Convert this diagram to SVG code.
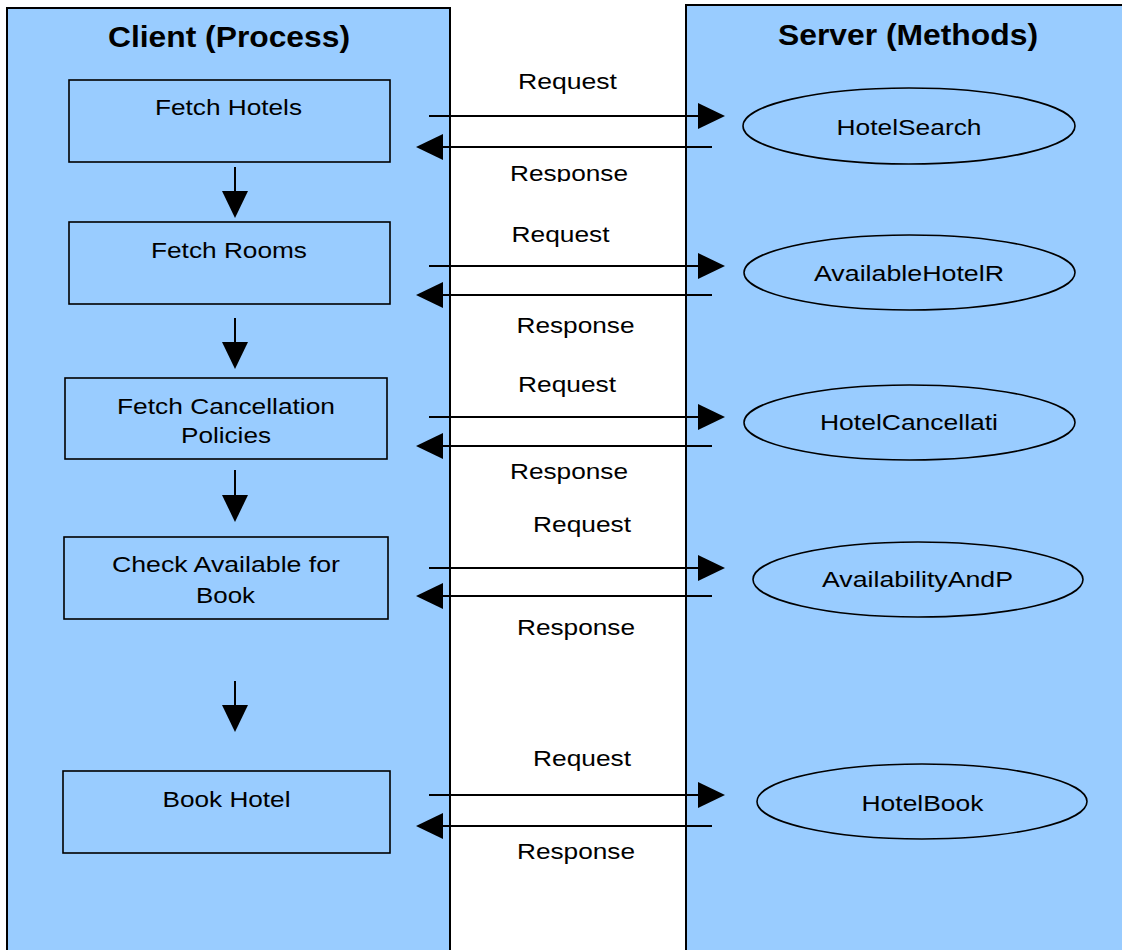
<svg xmlns="http://www.w3.org/2000/svg" width="1122" height="950" viewBox="0 0 1122 950">
<defs>
<marker id="ah" viewBox="0 0 27 26" refX="0" refY="13" markerWidth="27" markerHeight="26" markerUnits="userSpaceOnUse" orient="auto">
<path d="M0,0 L27,13 L0,26 z" fill="#000"/>
</marker>
<clipPath id="clipResp1"><rect x="450" y="150" width="236" height="32"/></clipPath>
</defs>
<style>
.panel{fill:#99ccff;stroke:#000;stroke-width:2}
.box{fill:#99ccff;stroke:#000;stroke-width:1.6}
.oval{fill:#99ccff;stroke:#000;stroke-width:1.6}
.t{font-family:"Liberation Sans",Arial,sans-serif;font-size:22px;fill:#000;text-anchor:middle}
.title{font-family:"Liberation Sans",Arial,sans-serif;font-size:29px;font-weight:bold;fill:#000;text-anchor:middle}
.c{stroke:#000;stroke-width:2;fill:none;marker-end:url(#ah)}
</style>
<rect width="1122" height="950" fill="#fff"/>
<g id="client-panel">
<rect class="panel" x="7" y="8" width="443" height="960"/>
<text class="title" x="229" y="47" textLength="242" lengthAdjust="spacingAndGlyphs">Client (Process)</text>
</g>
<g id="server-panel">
<rect class="panel" x="686" y="5" width="500" height="960"/>
<text class="title" x="908" y="45" textLength="260" lengthAdjust="spacingAndGlyphs">Server (Methods)</text>
</g>
<g id="fetch-hotels">
<rect class="box" x="69" y="80" width="321" height="82"/>
<text class="t" x="228.5" y="115" textLength="147" lengthAdjust="spacingAndGlyphs">Fetch Hotels</text>
</g>
<g id="fetch-rooms">
<rect class="box" x="69" y="222" width="321" height="82"/>
<text class="t" x="229" y="258" textLength="156" lengthAdjust="spacingAndGlyphs">Fetch Rooms</text>
</g>
<g id="fetch-cancellation">
<rect class="box" x="65" y="378" width="322" height="81"/>
<text class="t" x="226" y="414" textLength="218" lengthAdjust="spacingAndGlyphs">Fetch Cancellation</text>
<text class="t" x="226" y="443" textLength="90" lengthAdjust="spacingAndGlyphs">Policies</text>
</g>
<g id="check-available">
<rect class="box" x="64" y="537" width="324" height="82"/>
<text class="t" x="226" y="572" textLength="228" lengthAdjust="spacingAndGlyphs">Check Available for</text>
<text class="t" x="225.5" y="603" textLength="59" lengthAdjust="spacingAndGlyphs">Book</text>
</g>
<g id="book-hotel">
<rect class="box" x="63" y="771" width="327" height="82"/>
<text class="t" x="226.5" y="807" textLength="128" lengthAdjust="spacingAndGlyphs">Book Hotel</text>
</g>
<g id="hotel-search">
<ellipse class="oval" cx="909" cy="126" rx="166" ry="38"/>
<text class="t" x="909" y="135" textLength="145" lengthAdjust="spacingAndGlyphs">HotelSearch</text>
</g>
<g id="available-hotel-r">
<ellipse class="oval" cx="909.5" cy="272.5" rx="165.5" ry="37.5"/>
<text class="t" x="909" y="281" textLength="190" lengthAdjust="spacingAndGlyphs">AvailableHotelR</text>
</g>
<g id="hotel-cancellati">
<ellipse class="oval" cx="909.5" cy="422.5" rx="165.5" ry="37.5"/>
<text class="t" x="909" y="430" textLength="178" lengthAdjust="spacingAndGlyphs">HotelCancellati</text>
</g>
<g id="availability-and-p">
<ellipse class="oval" cx="918" cy="579.5" rx="165" ry="37.5"/>
<text class="t" x="917.5" y="587" textLength="191" lengthAdjust="spacingAndGlyphs">AvailabilityAndP</text>
</g>
<g id="hotel-book">
<ellipse class="oval" cx="922" cy="801.5" rx="165" ry="37.5"/>
<text class="t" x="922.5" y="811" textLength="122" lengthAdjust="spacingAndGlyphs">HotelBook</text>
</g>
<g id="middle-gap">
<rect x="451" y="0" width="234" height="950" fill="#fff"/>
<line x1="450" y1="8" x2="450" y2="950" stroke="#000" stroke-width="2"/>
<line x1="686" y1="5" x2="686" y2="950" stroke="#000" stroke-width="2"/>
</g>
<g id="connectors">
<line class="c" x1="235" y1="167" x2="235" y2="191"/>
<line class="c" x1="235" y1="318" x2="235" y2="342"/>
<line class="c" x1="235" y1="470" x2="235" y2="495"/>
<line class="c" x1="235" y1="681" x2="235" y2="705"/>
<line class="c" x1="429" y1="116" x2="698" y2="116"/>
<line class="c" x1="712" y1="147" x2="443" y2="147"/>
<line class="c" x1="429" y1="266" x2="698" y2="266"/>
<line class="c" x1="712" y1="295" x2="443" y2="295"/>
<line class="c" x1="429" y1="417" x2="698" y2="417"/>
<line class="c" x1="712" y1="446" x2="443" y2="446"/>
<line class="c" x1="429" y1="568" x2="698" y2="568"/>
<line class="c" x1="712" y1="596" x2="443" y2="596"/>
<line class="c" x1="429" y1="795" x2="698" y2="795"/>
<line class="c" x1="712" y1="826" x2="443" y2="826"/>
<text class="t" x="567.5" y="89" textLength="99" lengthAdjust="spacingAndGlyphs">Request</text>
<text class="t" x="569" y="181" textLength="118" lengthAdjust="spacingAndGlyphs" clip-path="url(#clipResp1)">Response</text>
<text class="t" x="560.5" y="242" textLength="98" lengthAdjust="spacingAndGlyphs">Request</text>
<text class="t" x="575.5" y="333" textLength="118" lengthAdjust="spacingAndGlyphs">Response</text>
<text class="t" x="567" y="392" textLength="98" lengthAdjust="spacingAndGlyphs">Request</text>
<text class="t" x="569" y="479" textLength="118" lengthAdjust="spacingAndGlyphs">Response</text>
<text class="t" x="582" y="532" textLength="98" lengthAdjust="spacingAndGlyphs">Request</text>
<text class="t" x="576" y="635" textLength="118" lengthAdjust="spacingAndGlyphs">Response</text>
<text class="t" x="582" y="766" textLength="98" lengthAdjust="spacingAndGlyphs">Request</text>
<text class="t" x="576" y="859" textLength="118" lengthAdjust="spacingAndGlyphs">Response</text>
</g>
</svg>
